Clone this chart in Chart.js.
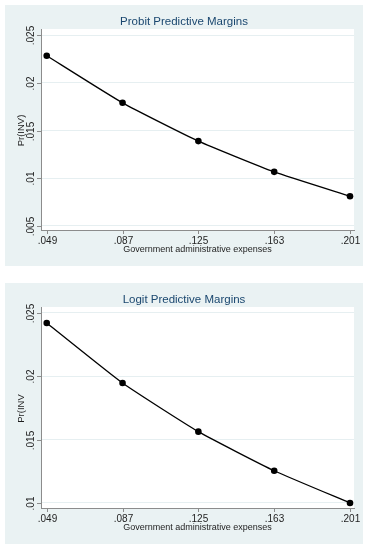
<!DOCTYPE html>
<html>
<head>
<meta charset="utf-8">
<script src="https://cdn.jsdelivr.net/npm/chart.js@4/dist/chart.umd.min.js"></script>
<style>
  html, body { margin: 0; padding: 0; background: #ffffff; }
  body { width: 368px; height: 550px; position: relative; overflow: hidden; }
  .panel { position: absolute; left: 5px; width: 358px; height: 261px; }
  #p1 { top: 5px; }
  #p2 { top: 283px; }
</style>
</head>
<body>
<div class="panel" id="p1"><canvas id="c1" width="358" height="261"></canvas></div>
<div class="panel" id="p2"><canvas id="c2" width="358" height="261"></canvas></div>
<script>
// ---- data ----
const xValues = [0.049, 0.087, 0.125, 0.163, 0.201];
const xTickLabels = [".049", ".087", ".125", ".163", ".201"];
const probitMargins = [0.02283, 0.0179, 0.01389, 0.01067, 0.00812];
const logitMargins = [0.02421, 0.01947, 0.01563, 0.01254, 0.01000];
const probitYTicks = [0.005, 0.01, 0.015, 0.02, 0.025];
const logitYTicks = [0.01, 0.015, 0.02, 0.025];
const probitTitle = "Probit Predictive Margins";
const logitTitle = "Logit Predictive Margins";
const xTitle = "Government administrative expenses";
const probitYTitle = "Pr(INV)";
const logitYTitle = "Pr(INV";

const FONT = "'Liberation Sans', Arial, sans-serif";
const BG = "#eaf2f3";
const AXIS = "#8c8c8c";

function fmt(v) {
  let s = String(+v.toFixed(4));
  return s.replace(/^0\./, ".");
}

function makeChart(id, values, yTicks, yMin, yMax, title, yTitle) {
  const decor = {
    id: 'decor' + id,
    beforeDraw(chart) {
      const ctx = chart.ctx, a = chart.chartArea;
      ctx.save();
      ctx.fillStyle = BG;
      ctx.fillRect(0, 0, chart.width, chart.height);
      ctx.fillStyle = "#ffffff";
      ctx.fillRect(a.left, a.top, a.right - a.left, a.bottom - a.top);
      ctx.restore();
    },
    afterDraw(chart) {
      const ctx = chart.ctx, a = chart.chartArea;
      const xs = chart.scales.x, ys = chart.scales.y;
      ctx.save();
      ctx.strokeStyle = AXIS;
      ctx.lineWidth = 1;
      ctx.fillStyle = "#1e1e1e";
      // x ticks + labels
      ctx.font = "10px " + FONT;
      ctx.textAlign = "center";
      ctx.textBaseline = "middle";
      xValues.forEach((v, i) => {
        const px = Math.round(xs.getPixelForValue(v)) + 0.5;
        ctx.beginPath();
        ctx.moveTo(px, a.bottom);
        ctx.lineTo(px, a.bottom + 4);
        ctx.stroke();
        ctx.fillText(xTickLabels[i], px, a.bottom + 11);
      });
      // x title
      ctx.font = "9px " + FONT;
      ctx.fillText(xTitle, (a.left + a.right) / 2, a.bottom + 20);
      // y ticks + labels (rotated)
      ctx.font = "10px " + FONT;
      yTicks.forEach(v => {
        const py = Math.round(ys.getPixelForValue(v)) + 0.5;
        ctx.beginPath();
        ctx.moveTo(a.left - 4, py);
        ctx.lineTo(a.left, py);
        ctx.stroke();
        ctx.save();
        ctx.translate(a.left - 10, py);
        ctx.rotate(-Math.PI / 2);
        ctx.fillText(fmt(v), 0, 0);
        ctx.restore();
      });
      // y title
      ctx.save();
      ctx.font = "9.5px " + FONT;
      ctx.translate(16, (a.top + a.bottom) / 2 + 1);
      ctx.rotate(-Math.PI / 2);
      ctx.fillText(yTitle, 0, 0);
      ctx.restore();
      // chart title (centred on the whole graph region)
      ctx.fillStyle = "#1a476f";
      ctx.font = "11.5px " + FONT;
      ctx.fillText(title, chart.width / 2, 17);
      ctx.restore();
    }
  };

  return new Chart(document.getElementById(id), {
    type: 'line',
    data: {
      datasets: [{
        data: xValues.map((x, i) => ({ x: x, y: values[i] })),
        borderColor: "#000000",
        borderWidth: 1.3,
        backgroundColor: "#000000",
        pointBackgroundColor: "#000000",
        pointBorderColor: "#000000",
        pointRadius: 3.3,
        pointBorderWidth: 0,
        tension: 0.15,
        fill: false
      }]
    },
    options: {
      responsive: false,
      animation: false,
      devicePixelRatio: 1,
      layout: { padding: { left: 0, top: 24, right: 9, bottom: 0 } },
      plugins: { legend: { display: false }, tooltip: { enabled: false }, title: { display: false } },
      scales: {
        x: {
          type: 'linear',
          min: 0.04613,
          max: 0.2030,
          grid: { display: false },
          border: { display: true, color: AXIS, width: 1 },
          ticks: { display: false },
          afterBuildTicks(s) { s.ticks = xValues.map(v => ({ value: v })); },
          afterFit(s) { s.height = 36; }
        },
        y: {
          type: 'linear',
          min: yMin,
          max: yMax,
          grid: { display: true, color: "#e6eff1", lineWidth: 1, drawTicks: false },
          border: { display: true, color: AXIS, width: 1 },
          ticks: { display: false },
          afterBuildTicks(s) { s.ticks = yTicks.map(v => ({ value: v })); },
          afterFit(s) { s.width = 36; }
        }
      }
    },
    plugins: [decor]
  });
}

makeChart('c1', probitMargins, probitYTicks, 0.00458, 0.02563, probitTitle, probitYTitle);
makeChart('c2', logitMargins, logitYTicks, 0.0096, 0.02547, logitTitle, logitYTitle);
</script>
</body>
</html>
